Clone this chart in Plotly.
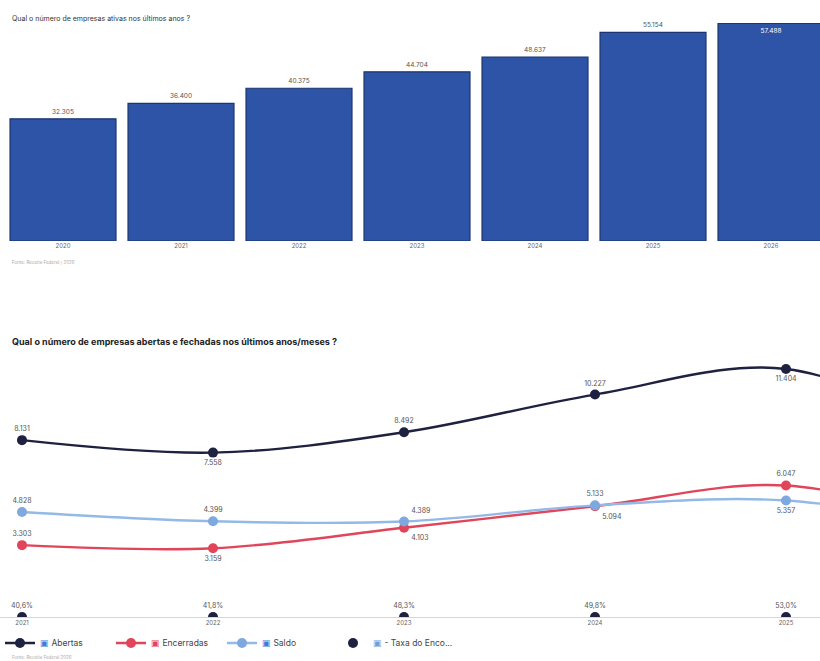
import plotly.graph_objects as go

# ---------- data ----------
anos_ativas = ["2020", "2021", "2022", "2023", "2024", "2025", "2026"]
empresas_ativas = [32305, 36400, 40375, 44704, 48637, 55154, 57488]

anos_fluxo = [2021, 2022, 2023, 2024, 2025, 2026]
abertas = [8131, 7558, 8492, 10227, 11404, 8000]
encerradas = [3303, 3159, 4103, 5094, 6047, 4000]
saldo = [4828, 4399, 4389, 5133, 5357, 4000]
taxa_encerramento = [40.6, 41.8, 48.3, 49.8, 53.0, 50.0]

def br(n):
    return f"{n:,}".replace(",", ".")

def pct(v):
    return f"{v:.1f}%".replace(".", ",")

W, H = 820, 661
def py(pix):
    return 1 - pix / H

fig = go.Figure()

# ---------- top: bar chart ----------
bar_text = [br(v) for v in empresas_ativas]
bar_pos = ["outside"] * 6 + ["inside"]
fig.add_trace(go.Bar(
    x=anos_ativas, y=empresas_ativas, text=bar_text, textposition=bar_pos,
    insidetextanchor="end",
    marker=dict(color="#2d54a6", line=dict(color="#1b356f", width=1.2)),
    outsidetextfont=dict(size=6.5, color="#555555", family="Inter"),
    insidetextfont=dict(size=6.5, color="#ffffff", family="Inter"),
    cliponaxis=False, showlegend=False, hoverinfo="x+y",
    xaxis="x", yaxis="y",
))

# ---------- bottom: lines ----------
n_vis = 5
def labels(vals, fmt):
    return [fmt(v) for v in vals[:n_vis]] + [""] * (len(vals) - n_vis)

fig.add_trace(go.Scatter(
    x=anos_fluxo, y=abertas, mode="lines+markers+text", name="<span style='color:#3b7dd8'>▣</span> Abertas",
    line=dict(color="#1e2140", width=2.4, shape="spline"),
    marker=dict(size=10, color="#1e2140"),
    text=labels(abertas, br),
    textposition=["top center", "bottom center", "top center", "top center", "bottom center", "top center"],
    textfont=dict(size=7, color="#555555", family="Inter"),
    xaxis="x2", yaxis="y2",
))
fig.add_trace(go.Scatter(
    x=anos_fluxo, y=encerradas, mode="lines+markers+text", name="<span style='color:#e0455a'>▣</span> Encerradas",
    line=dict(color="#e0455a", width=2.4, shape="spline"),
    marker=dict(size=10, color="#e0455a"),
    text=labels(encerradas, br),
    textposition=["top center", "bottom center", "bottom right", "bottom right", "top center", "top center"],
    textfont=dict(size=7, color="#555555", family="Inter"),
    xaxis="x2", yaxis="y2",
))
fig.add_trace(go.Scatter(
    x=anos_fluxo, y=saldo, mode="lines+markers+text", name="<span style='color:#3b7dd8'>▣</span> Saldo",
    line=dict(color="#93b9e6", width=2.4, shape="spline"),
    marker=dict(size=10, color="#7fa9de"),
    text=labels(saldo, br),
    textposition=["top center", "top center", "top right", "top center", "bottom center", "top center"],
    textfont=dict(size=7, color="#555555", family="Inter"),
    xaxis="x2", yaxis="y2",
))
fig.add_trace(go.Scatter(
    x=anos_fluxo, y=[v / 100 for v in taxa_encerramento], mode="markers+text",
    name="<span style='color:#6fa0dc'>▣</span> - Taxa do Enco...",
    marker=dict(size=10, color="#1e2140"),
    text=labels(taxa_encerramento, pct),
    textposition="top center",
    textfont=dict(size=7, color="#555555", family="Inter"),
    xaxis="x2", yaxis="y2",
))
# invisible spacer so the last legend label is not clipped
fig.add_trace(go.Scatter(
    x=[None], y=[None], mode="markers", name=" ",
    marker=dict(color="rgba(0,0,0,0)", size=1, line=dict(width=0)),
    hoverinfo="skip", xaxis="x2", yaxis="y2",
))

# ---------- axes ----------
px_per_cat = 118
x0 = -63 / px_per_cat
fig.update_layout(
    width=W, height=H,
    margin=dict(l=0, r=0, t=0, b=0),
    paper_bgcolor="white", plot_bgcolor="white",
    font=dict(family="Inter", color="#333333"),
    bargap=0.102,
    xaxis=dict(domain=[0, 1], range=[x0, x0 + W / px_per_cat], type="category",
               anchor="y", showgrid=False, showline=False, zeroline=False,
               ticks="", tickfont=dict(size=6, color="#666666")),
    yaxis=dict(domain=[py(241), py(14)], range=[0, 60000], showgrid=False,
               showticklabels=False, zeroline=False, showline=False),
    xaxis2=dict(domain=[0, 1], range=[2021 - 22 / 191, 2021 - 22 / 191 + W / 191],
                anchor="y2", tickvals=anos_fluxo[:n_vis], ticktext=[str(a) for a in anos_fluxo[:n_vis]],
                showgrid=False, zeroline=False, showline=True, linecolor="#d6d6d6", linewidth=1,
                ticks="", tickfont=dict(size=6, color="#666666")),
    yaxis2=dict(domain=[py(617), py(356)], range=[0, 12000], anchor="x2",
                showgrid=False, showticklabels=False, zeroline=False, showline=False),
    legend=dict(orientation="h", x=0, xanchor="left", y=py(643), yanchor="middle",
                font=dict(size=8.5, color="#444444", family="Inter"),
                entrywidth=66, entrywidthmode="pixels", itemwidth=30,
                bgcolor="rgba(0,0,0,0)"),
    annotations=[
        dict(text="Qual o número de empresas ativas nos últimos anos ?", x=10 / W, y=py(19),
             xref="paper", yref="paper", xanchor="left", yanchor="middle", showarrow=False,
             font=dict(size=7, color="#333333", family="Inter")),
        dict(text="Fonte: Receita Federal / 2026", x=10 / W, y=py(262),
             xref="paper", yref="paper", xanchor="left", yanchor="middle", showarrow=False,
             font=dict(size=4.5, color="#aaaaaa", family="Inter")),
        dict(text="<b>Qual o número de empresas abertas e fechadas nos últimos anos/meses ?</b>",
             x=10 / W, y=py(342), xref="paper", yref="paper", xanchor="left", yanchor="middle",
             showarrow=False, font=dict(size=9, color="#222222", family="Inter")),
        dict(text="Fonte: Receita Federal 2026", x=10 / W, y=py(657),
             xref="paper", yref="paper", xanchor="left", yanchor="middle", showarrow=False,
             font=dict(size=4.5, color="#aaaaaa", family="Inter")),
    ],
)

fig.write_html("out.html", config={"displayModeBar": False},
               post_script="document.body.style.margin='0px';")
